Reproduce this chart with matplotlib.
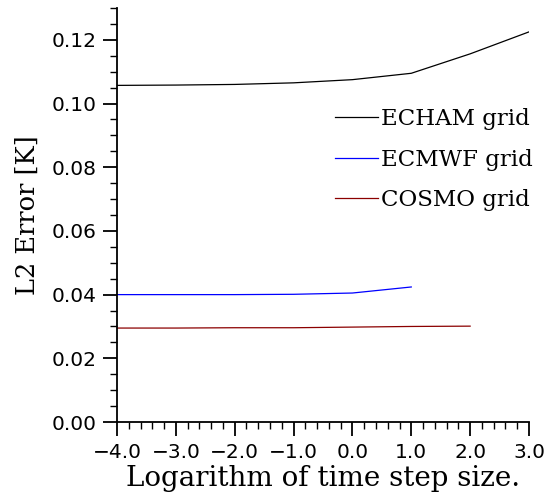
"""L2 error versus logarithm of time step size for three grids."""
import matplotlib
matplotlib.use("Agg")
import matplotlib.pyplot as plt
from matplotlib.ticker import MultipleLocator, FuncFormatter

# data
log_dt = [-4.0, -3.0, -2.0, -1.0, 0.0, 1.0, 2.0, 3.0]
echam = [0.1057, 0.1058, 0.1060, 0.1065, 0.1075, 0.1095, 0.1156, 0.1225]
log_dt_ecmwf = [-4.0, -3.0, -2.0, -1.0, 0.0, 1.0]
ecmwf = [0.0400, 0.0400, 0.0400, 0.0401, 0.0405, 0.0424]
log_dt_cosmo = [-4.0, -3.0, -2.0, -1.0, 0.0, 1.0, 2.0]
cosmo = [0.0295, 0.0295, 0.0296, 0.0296, 0.0298, 0.0300, 0.0301]
labels = ["ECHAM grid", "ECMWF grid", "COSMO grid"]

fig = plt.figure(figsize=(5.48, 5.0), dpi=100)
ax = fig.add_axes([0.2135, 0.156, 0.7518, 0.828])

ax.plot(log_dt, echam, color="black", lw=0.9, label=labels[0])
ax.plot(log_dt_ecmwf, ecmwf, color="blue", lw=0.9, label=labels[1])
ax.plot(log_dt_cosmo, cosmo, color="#8b0000", lw=0.9, label=labels[2])

ax.set_xlim(-4, 3)
ax.set_ylim(0, 0.13)
ax.spines["top"].set_visible(False)
ax.spines["right"].set_visible(False)
for s in ("left", "bottom"):
    ax.spines[s].set_linewidth(1.3)

ax.xaxis.set_major_locator(MultipleLocator(1.0))
ax.xaxis.set_minor_locator(MultipleLocator(0.2))
ax.yaxis.set_major_locator(MultipleLocator(0.02))
ax.yaxis.set_minor_locator(MultipleLocator(0.005))
ax.xaxis.set_major_formatter(FuncFormatter(lambda v, p: f"{v:.1f}".replace("-", "\u2212")))
ax.yaxis.set_major_formatter(FuncFormatter(lambda v, p: f"{v:.2f}"))
ax.tick_params(which="major", direction="out", length=10, width=1.3,
               labelsize=14.5, pad=5)
ax.tick_params(which="minor", direction="out", length=5, width=1.0)
for lab in ax.get_xticklabels() + ax.get_yticklabels():
    lab.set_family("DejaVu Sans")

ax.set_xlabel("Logarithm of time step size.", family="DejaVu Serif",
              fontsize=20, labelpad=2)
ax.set_ylabel("L2 Error [K]", family="DejaVu Serif", fontsize=18.5, labelpad=8)

ax.legend(loc="upper left", bbox_to_anchor=(0.529, 0.758), frameon=False,
          borderpad=0, borderaxespad=0,
          handlelength=1.9, handletextpad=0.1, labelspacing=0.8,
          prop={"family": "DejaVu Serif", "size": 16.5})

fig.savefig("out.png", dpi=100)
